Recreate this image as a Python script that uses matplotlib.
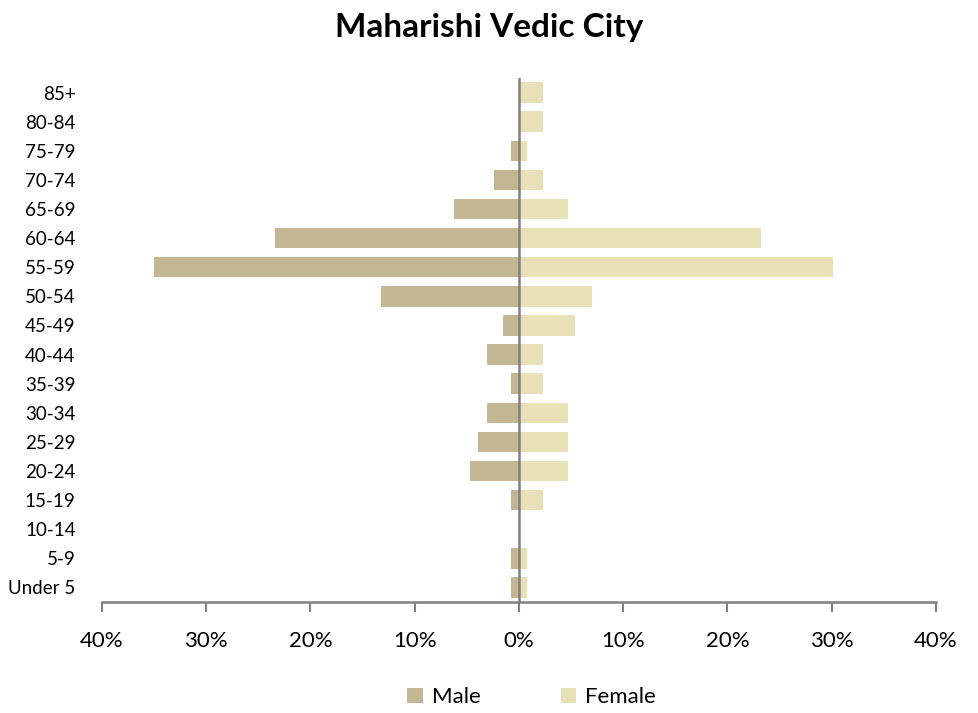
import matplotlib
matplotlib.use("Agg")
import matplotlib.pyplot as plt
from matplotlib.ticker import FuncFormatter
import numpy as np

plt.rcParams['font.family'] = ['Lato', 'DejaVu Sans']

ages = ["Under 5", "5-9", "10-14", "15-19", "20-24", "25-29", "30-34", "35-39",
        "40-44", "45-49", "50-54", "55-59", "60-64", "65-69", "70-74", "75-79",
        "80-84", "85+"]
male = [0.74, 0.74, 0.0, 0.74, 4.7, 3.9, 3.1, 0.74,
        3.1, 1.5, 13.2, 35.0, 23.4, 6.2, 2.4, 0.74,
        0.0, 0.0]
female = [0.8, 0.8, 0.0, 2.3, 4.7, 4.7, 4.7, 2.3,
          2.3, 5.4, 7.0, 30.1, 23.2, 4.7, 2.3, 0.8,
          2.3, 2.3]

MALE_C = "#C4B593"
FEMALE_C = "#E8E0B6"

fig = plt.figure(figsize=(9.79, 7.13), dpi=100)
ax = fig.add_axes([102 / 979, 1 - 602 / 713, 834 / 979, 524 / 713])

y = np.arange(len(ages))
ax.barh(y, -np.array(male), height=0.7, color=MALE_C, label="Male")
ax.barh(y, female, height=0.7, color=FEMALE_C, label="Female")

ax.set_xlim(-40, 40)
ax.set_ylim(-0.5, len(ages) - 0.5)
ax.set_xticks(np.arange(-40, 41, 10))
ax.xaxis.set_major_formatter(FuncFormatter(lambda v, p: f"{abs(v):.0f}%"))
ax.set_yticks(y)
ax.set_yticklabels(ages)

ax.axvline(0, color="#808080", lw=1.8, zorder=3)
for s in ["top", "right", "left"]:
    ax.spines[s].set_visible(False)
ax.spines["bottom"].set_color("#808080")
ax.spines["bottom"].set_linewidth(1.8)
ax.tick_params(axis="x", direction="out", length=7, width=1.5, color="#808080",
               labelsize=16, pad=14)
ax.tick_params(axis="y", length=0, labelsize=13.5, pad=19)

fig.suptitle("Maharishi Vedic City", fontsize=24, fontweight="bold", y=0.982)

fig.legend(loc="center", bbox_to_anchor=(0.543, 0.022), ncol=2, frameon=False,
           fontsize=16, handlelength=0.7, handleheight=0.7, handletextpad=0.4,
           columnspacing=3.6)

fig.savefig("out.png", dpi=100)
